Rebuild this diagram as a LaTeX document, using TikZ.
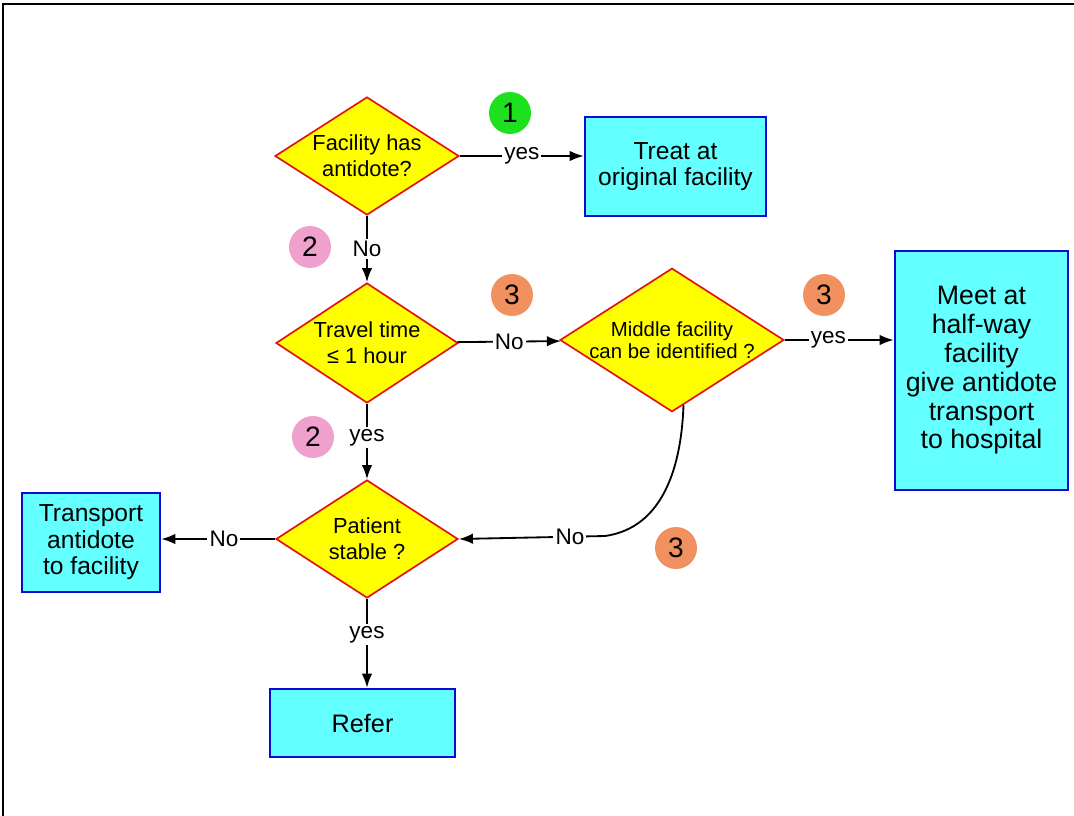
\documentclass[tikz,border=0pt]{standalone}
\usepackage{fontspec}
\setmainfont{Liberation Sans}
\usepackage{xcolor}
\usetikzlibrary{shapes.geometric, arrows.meta}
\definecolor{dyellow}{RGB}{255,255,0}
\definecolor{dred}{RGB}{225,20,20}
\definecolor{bcyan}{RGB}{100,255,255}
\definecolor{bblue}{RGB}{10,10,215}
\definecolor{cgreen}{RGB}{30,225,30}
\definecolor{cpink}{RGB}{240,160,205}
\definecolor{corange}{RGB}{240,145,95}

\begin{document}
\begin{tikzpicture}[x=0.025cm, y=-0.025cm, >={Latex[length=10pt,width=7.5pt]}, line width=1.3pt,
    dec/.style={diamond, draw=dred, fill=dyellow, line width=1.2pt, inner sep=0pt, shape aspect=1.56, align=center, font=\fontsize{15.5}{18.5}\selectfont},
    act/.style={rectangle, draw=bblue, fill=bcyan, line width=1.8pt, inner sep=2pt, align=center, font=\fontsize{17.5}{19}\selectfont},
    num/.style={circle, inner sep=0pt, minimum size=1.05cm, font=\fontsize{20}{22}\selectfont},
    lbl/.style={fill=white, inner sep=1.5pt, font=\fontsize{16}{18}\selectfont}]
     \useasboundingbox (0,0) rectangle (1074,816);
     \draw[line width=1.3pt] (3,816) -- (3,4) -- (1074,4);

     \node[dec, minimum width=4.6cm, minimum height=2.95cm] (d1) at (367,156) {Facility has\\antidote?};
     \node[dec, minimum width=4.55cm, minimum height=3cm] (d2) at (367,343) {Travel time\\≤ 1 hour};
     \node[dec, minimum width=5.5cm, minimum height=3.475cm, font=\fontsize{14.5}{16}\selectfont] (d3) at (672,340) {Middle facility\\can be identified ?};
     \node[dec, minimum width=4.55cm, minimum height=2.95cm] (d4) at (367,539) {Patient\\stable ?};

     \node[act, minimum width=4.525cm, minimum height=2.475cm] (treat) at (675.5,166.5) {Treat at\\original facility};
     \node[act, minimum width=4.325cm, minimum height=5.975cm, font=\fontsize{19}{20.5}\selectfont] (meet) at (981.5,370.5) {Meet at\\half-way\\facility\\give antidote\\transport\\to hospital};
     \node[act, minimum width=3.45cm, minimum height=2.475cm, font=\fontsize{17.5}{18.8}\selectfont] (carry) at (91,542.5) {Transport\\antidote\\to facility};
     \node[act, minimum width=4.625cm, minimum height=1.7cm, font=\fontsize{18}{20}\selectfont] (refer) at (362.5,723) {Refer};

     \node[num, fill=cgreen] (n1) at (510,113) {1};
     \node[num, fill=cpink] (n2a) at (310,247) {2};
     \node[num, fill=corange] (n3a) at (512,295) {3};
     \node[num, fill=corange] (n3b) at (824,295) {3};
     \node[num, fill=cpink] (n2b) at (313,437) {2};
     \node[num, fill=corange] (n3c) at (676,548) {3};

     \coordinate (bend) at (605,536);

     \draw[->] (d1.east) -- node[lbl] {yes} (d1.east -| treat.west);
     \draw[->] (d1) -- node[lbl] {No} (d2);
     \draw[->] (d2) -- node[lbl] {No} (d3);
     \draw[->] (d3.east) -- node[lbl, pos=0.4] {yes} (d3.east -| meet.west);
     \draw[->] (d2) -- node[lbl, pos=0.45] {yes} (d4);
     \draw (d3.-80) to[out=-92, in=8] (bend);
     \draw[->] (bend) -- node[lbl, pos=0.24] {No} (d4.east);
     \draw[->] (d4.west) -- node[lbl, pos=0.45] {No} (d4.west -| carry.east);
     \draw[->] (d4.south) -- node[lbl, pos=0.4] {yes} (d4.south |- refer.north);
    \end{tikzpicture}
\end{document}
